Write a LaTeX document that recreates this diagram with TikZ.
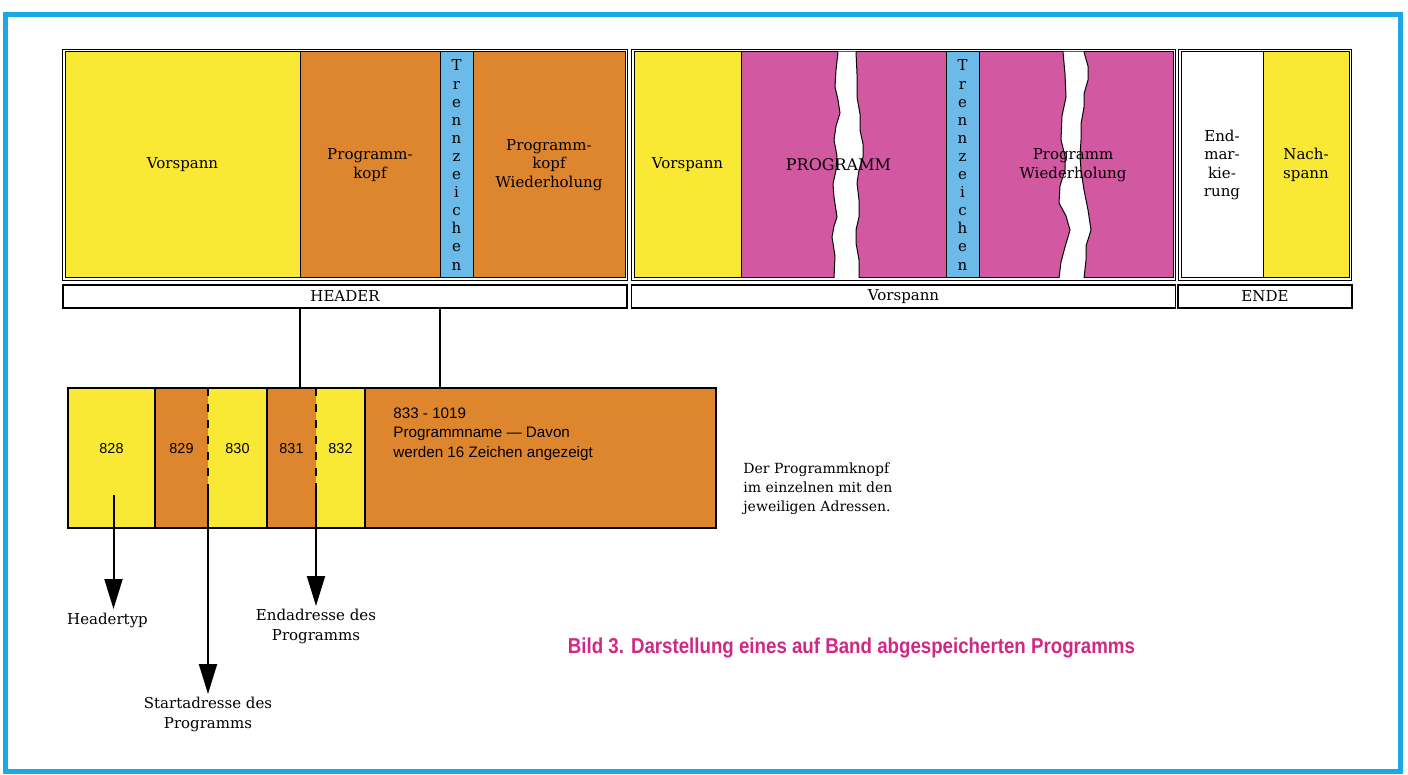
\documentclass[tikz,border=0pt]{standalone}
\usepackage{fontspec}
\usepackage{graphicx}
\setmainfont{DejaVu Serif}
\setsansfont{Liberation Sans}
\usetikzlibrary{arrows.meta,positioning,calc,fit}
\definecolor{tapeYellow}{RGB}{249,233,52}
\definecolor{tapeOrange}{RGB}{222,134,46}
\definecolor{tapeBlue}{RGB}{108,186,232}
\definecolor{tapePink}{RGB}{210,88,162}
\definecolor{frameBlue}{RGB}{28,168,228}
\definecolor{capMagenta}{RGB}{208,40,132}

\begin{document}
\begin{tikzpicture}[x=1pt, y=-1pt,
    cell/.style={rectangle, draw=black, line width=0.5pt, minimum height=113pt,
      inner sep=0pt, outer sep=0pt, align=center,
      font=\fontsize{7.5}{9.3}\selectfont},
    sepcell/.style={cell, fill=tapeBlue, minimum width=16.5pt,
      font=\fontsize{7.5}{9.05}\selectfont},
    celltxt/.style={align=center, inner sep=0pt, font=\fontsize{7.5}{9.3}\selectfont},
    grpframe/.style={draw=black, line width=0.7pt, inner sep=1.3pt},
    strip/.style={rectangle, draw=black, line width=0.7pt, inner sep=0pt,
      minimum height=11.5pt, font=\fontsize{7.5}{9}\selectfont},
    lowcell/.style={rectangle, minimum height=70pt, inner sep=0pt, outer sep=0pt,
      text height=5pt, text depth=10pt, font=\sffamily\fontsize{7.2}{9}\selectfont},
    tearedge/.style={draw=black, line width=0.5pt},
    ptr/.style={-{Triangle[length=15pt,width=9pt]}, line width=1pt},
    note/.style={align=center, inner sep=0pt, font=\fontsize{7.5}{9.8}\selectfont},
  ]
  \useasboundingbox (0,0) rectangle (704,387.5);
  \draw[frameBlue, line width=2.5pt] (2.75,7.25) rectangle (700,385.5);

  % ---- Band: header ----
  \node[cell, fill=tapeYellow, minimum width=117.5pt, anchor=north west] (vsp1) at (32.5,26) {Vorspann};
  \node[cell, fill=tapeOrange, minimum width=70pt, right=0pt of vsp1] (kopf) {Programm-\\kopf};
  \node[sepcell, right=0pt of kopf] (trz1) {T\\r\\e\\n\\n\\z\\e\\i\\c\\h\\e\\n};
  \node[cell, fill=tapeOrange, minimum width=76pt, right=0pt of trz1] (kopfw) {Programm-\\kopf\\Wiederholung};

  % ---- Band: program ----
  \node[cell, fill=tapeYellow, minimum width=53.5pt, right=4.5pt of kopfw] (vsp2) {Vorspann};
  \node[cell, fill=tapePink, minimum width=102.5pt, right=0pt of vsp2] (prog) {};
  \node[sepcell, right=0pt of prog] (trz2) {T\\r\\e\\n\\n\\z\\e\\i\\c\\h\\e\\n};
  \node[cell, fill=tapePink, minimum width=97pt, right=0pt of trz2] (progw) {};

  % ---- Band: end ----
  \node[cell, fill=white, minimum width=41pt, right=4pt of progw] (endm) {End-\\mar-\\kie-\\rung};
  \node[cell, fill=tapeYellow, minimum width=43pt, right=0pt of endm] (nach) {Nach-\\spann};

  \node[grpframe, fit=(vsp1)(kopfw)] (grphdr) {};
  \node[grpframe, fit=(vsp2)(progw)] (grpprog) {};
  \node[grpframe, fit=(endm)(nach)] (grpend) {};

  % torn tape
  \fill[white] (419,25.8) -- (418,35) -- (417.5,43.5) -- (419,50) -- (420,56.5) -- (418,63)
    -- (417,70) -- (418.5,78) -- (418,85) -- (416.5,92) -- (417,98.5) -- (418.5,108.5)
    -- (417,113) -- (416,118.5) -- (417.5,128) -- (417,139.3)
    -- (429.5,139.3) -- (429.5,130) -- (428,121.5) -- (428,115) -- (429.5,108.5)
    -- (429.5,100) -- (428.5,91.5) -- (429.5,85) -- (431.5,78.5) -- (431.5,72)
    -- (430,65) -- (430,57) -- (428.5,48.5) -- (428.5,37) -- (428,25.8) -- cycle;
  \draw[tearedge] (419,26) -- (418,35) -- (417.5,43.5) -- (419,50) -- (420,56.5) -- (418,63)
    -- (417,70) -- (418.5,78) -- (418,85) -- (416.5,92) -- (417,98.5) -- (418.5,108.5)
    -- (417,113) -- (416,118.5) -- (417.5,128) -- (417,139);
  \draw[tearedge] (428,26) -- (428.5,37) -- (428.5,48.5) -- (430,57) -- (430,65) -- (431.5,72)
    -- (431.5,78.5) -- (429.5,85) -- (428.5,91.5) -- (429.5,100) -- (429.5,108.5)
    -- (428,115) -- (428,121.5) -- (429.5,130) -- (429.5,139);
  \fill[white] (531.5,25.8) -- (532.5,37) -- (533,48.5) -- (531,58) -- (530.5,70) -- (532.5,78)
    -- (532.5,85) -- (530,93) -- (529.5,101.5) -- (533,108) -- (535,115) -- (532.5,123.5)
    -- (530.5,131) -- (529.5,139.3)
    -- (542,139.3) -- (543,130) -- (543,123) -- (545.5,115) -- (544,105) -- (542,95)
    -- (540.5,85) -- (540,78) -- (540.5,70) -- (540.5,62) -- (542,53.5) -- (542,47)
    -- (544,40) -- (544,33) -- (542,25.8) -- cycle;
  \draw[tearedge] (531.5,26) -- (532.5,37) -- (533,48.5) -- (531,58) -- (530.5,70) -- (532.5,78)
    -- (532.5,85) -- (530,93) -- (529.5,101.5) -- (533,108) -- (535,115) -- (532.5,123.5)
    -- (530.5,131) -- (529.5,139);
  \draw[tearedge] (542,26) -- (544,33) -- (544,40) -- (542,47) -- (542,53.5) -- (540.5,62)
    -- (540.5,70) -- (540,78) -- (540.5,85) -- (542,95) -- (544,105) -- (545.5,115)
    -- (543,123) -- (543,130) -- (542,139);
  \node[celltxt, font=\fontsize{8}{9.3}\selectfont] (progtxt) at ($(prog.center)+(-2.5,0)$) {PROGRAMM};
  \node[celltxt] (progwtxt) at ($(progw.center)+(-1.5,0)$) {Programm\\Wiederholung};

  % ---- Labels under the band ----
  \node[strip, minimum width=282pt, below=1.5pt of grphdr] (hdr) {HEADER};
  \node[strip, minimum width=272pt, below=1.5pt of grpprog] (vsplbl) {Vorspann};
  \node[strip, minimum width=87pt, below=1.5pt of grpend] (ende) {ENDE};

  % ---- Program head in detail ----
  \node[lowcell, fill=tapeYellow, minimum width=43.5pt, anchor=north west] (c828) at (34,194) {828};
  \node[lowcell, fill=tapeOrange, minimum width=26.5pt, right=0pt of c828] (c829) {829};
  \node[lowcell, fill=tapeYellow, minimum width=29.5pt, right=0pt of c829] (c830) {830};
  \node[lowcell, fill=tapeOrange, minimum width=24.5pt, right=0pt of c830] (c831) {831};
  \node[lowcell, fill=tapeYellow, minimum width=24.5pt, right=0pt of c831] (c832) {832};
  \node[lowcell, fill=tapeOrange, minimum width=175.5pt, right=0pt of c832] (cname) {};
  \node[inner sep=0pt, anchor=north west, align=left, font=\sffamily\fontsize{7.6}{9.75}\selectfont]
    (nametxt) at ($(cname.north west)+(14,9.5)$)
    {833 - 1019\\Programmname --- Davon\\werden 16 Zeichen angezeigt};
  \node[draw=black, line width=0.9pt, inner sep=0pt, fit=(c828)(cname)] (lowbox) {};
  \draw[line width=0.6pt] (c829.north west) -- (c829.south west);
  \draw[line width=0.6pt] (c831.north west) -- (c831.south west);
  \draw[line width=0.6pt] (cname.north west) -- (cname.south west);

  \draw[line width=0.6pt] (kopf.west |- hdr.south) -- (kopf.west |- lowbox.north);
  \draw[line width=0.6pt] (kopf.east |- hdr.south) -- (kopf.east |- lowbox.north);

  % ---- Pointers ----
  \coordinate (a1s) at ($(c828.north)+(1,53.5)$);
  \coordinate (a1e) at ($(a1s)+(0,57)$);
  \coordinate (a2s) at ($(c830.north west)+(0,52)$);
  \coordinate (a2e) at ($(a2s)+(0,101)$);
  \coordinate (a3s) at ($(c832.north west)+(0,47.5)$);
  \coordinate (a3e) at ($(a3s)+(0,61.5)$);
  \draw[line width=0.8pt, dash pattern=on 4pt off 4pt] (c830.north west) -- (a2s);
  \draw[line width=0.8pt, dash pattern=on 4pt off 4pt] (c832.north west) -- (a3s);
  \draw[ptr] (a1s) -- (a1e);
  \draw[ptr] (a2s) -- (a2e);
  \draw[ptr] (a3s) -- (a3e);
  \node[note, below=2pt of a1e, xshift=-3pt] (typlbl) {Headertyp};
  \node[note, below=1.5pt of a2e] (startlbl) {Startadresse des\\Programms};
  \node[note, below=1.5pt of a3e] (endlbl) {Endadresse des\\Programms};

  \node[note, align=left, anchor=north west, font=\fontsize{7}{9.5}\selectfont] (sidenote) at (371.5,231)
    {Der Programmknopf\\im einzelnen mit den\\jeweiligen Adressen.};
  \node[inner sep=0pt, text=capMagenta] (caption) at (425.75,324)
    {\resizebox{283.5pt}{7.8pt}{\sffamily\bfseries Bild 3. Darstellung eines auf Band abgespeicherten Programms}};
\end{tikzpicture}
\end{document}
